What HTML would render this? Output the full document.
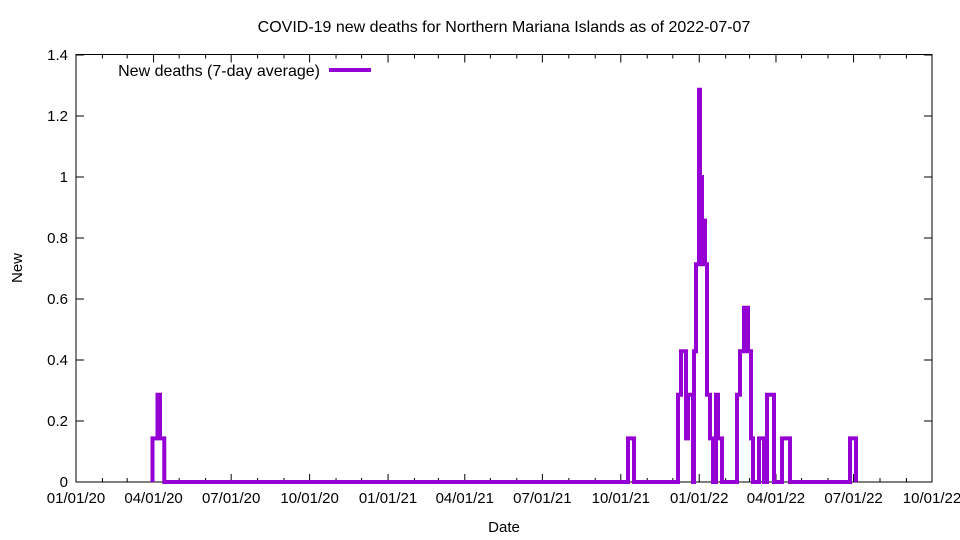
<!DOCTYPE html>
<html><head><meta charset="utf-8"><style>
body{margin:0;background:#fff}
svg{display:block;font-family:"Liberation Sans",sans-serif}
</style></head><body>
<svg id="s" width="960" height="540" xmlns="http://www.w3.org/2000/svg">
<rect width="960" height="540" fill="#fff"/>
<text x="504" y="32" font-size="16" text-anchor="middle">COVID-19 new deaths for Northern Mariana Islands as of 2022-07-07</text>
<g id="ticks" stroke="#000" stroke-width="1"></g>
<rect x="76" y="54.5" width="856" height="427.5" fill="none" stroke="#000" stroke-width="1"/>
<g font-size="15" text-anchor="end" id="ylab"></g>
<g font-size="15" text-anchor="middle" id="xlab"></g>
<text x="504" y="532" font-size="15" text-anchor="middle">Date</text>
<text transform="translate(22,268) rotate(-90)" font-size="15" text-anchor="middle">New</text>
<text x="320" y="76" font-size="16" text-anchor="end">New deaths (7-day average)</text>
<line x1="329" y1="70" x2="371" y2="70" stroke="#9400d3" stroke-width="4"/>
<polyline fill="none" stroke="#9400d3" stroke-width="4" stroke-linejoin="miter" points="
152.5,482 152.5,438.4 157.5,438.4 157.5,394.8 160,394.8 160,438.4 164.3,438.4 164.3,482
628,482 628,438.4 634,438.4 634,482
678,482 678,394.8 681,394.8 681,351.3 686,351.3 686,438.4 688,438.4 688,394.8 693,394.8 693,482 694,482 694,351.3 696,351.3 696,264.2 699,264.2 699,89.8 700,89.8 700,264.2 701,264.2 701,177 702,177 702,264.2 704,264.2 704,220.6 705,220.6 705,264.2 707,264.2 707,394.8 710,394.8 710,438.4 713,438.4 713,482 716,482 716,394.8 718,394.8 718,438.4 722,438.4 722,482
737,482 737,394.8 740,394.8 740,351.3 744,351.3 744,307.7 748,307.7 748,351.3 751,351.3 751,438.4 753,438.4 753,482 759,482 759,438.4 764,438.4 764,482 767,482 767,394.8 774,394.8 774,482 782,482 782,438.4 790,438.4 790,482 850,482 850,438.4 856,438.4 856,482"/>
</svg>
<script>
var t=document.getElementById('ticks'),yl=document.getElementById('ylab'),xl=document.getElementById('xlab'),ns='http://www.w3.org/2000/svg';
function ln(a,b,c,d){var l=document.createElementNS(ns,'line');l.setAttribute('x1',a);l.setAttribute('y1',b);l.setAttribute('x2',c);l.setAttribute('y2',d);t.appendChild(l);}
function tx(g,x,y,s){var e=document.createElementNS(ns,'text');e.setAttribute('x',x);e.setAttribute('y',y);e.textContent=s;g.appendChild(e);}
for(var i=0;i<=7;i++){var y=482-i*0.2*305;ln(76,y,84,y);ln(932,y,924,y);tx(yl,68,y+5,(i==0?'0':(i*0.2).toFixed(1).replace(/\.0$/,'')));}
var d0=Date.UTC(2020,0,1),s=856/1004;
for(var m=0;m<=33;m++){var d=Date.UTC(2020,m,1),x=76+(d-d0)/864e5*s;var big=m%3==0;var L=big?8:4;ln(x,482,x,482-L);ln(x,54.5,x,54.5+L);
if(big){var dt=new Date(d);var mm=('0'+(dt.getUTCMonth()+1)).slice(-2);tx(xl,x,503,mm+'/01/'+String(dt.getUTCFullYear()).slice(2));}}
</script>
</body></html>
